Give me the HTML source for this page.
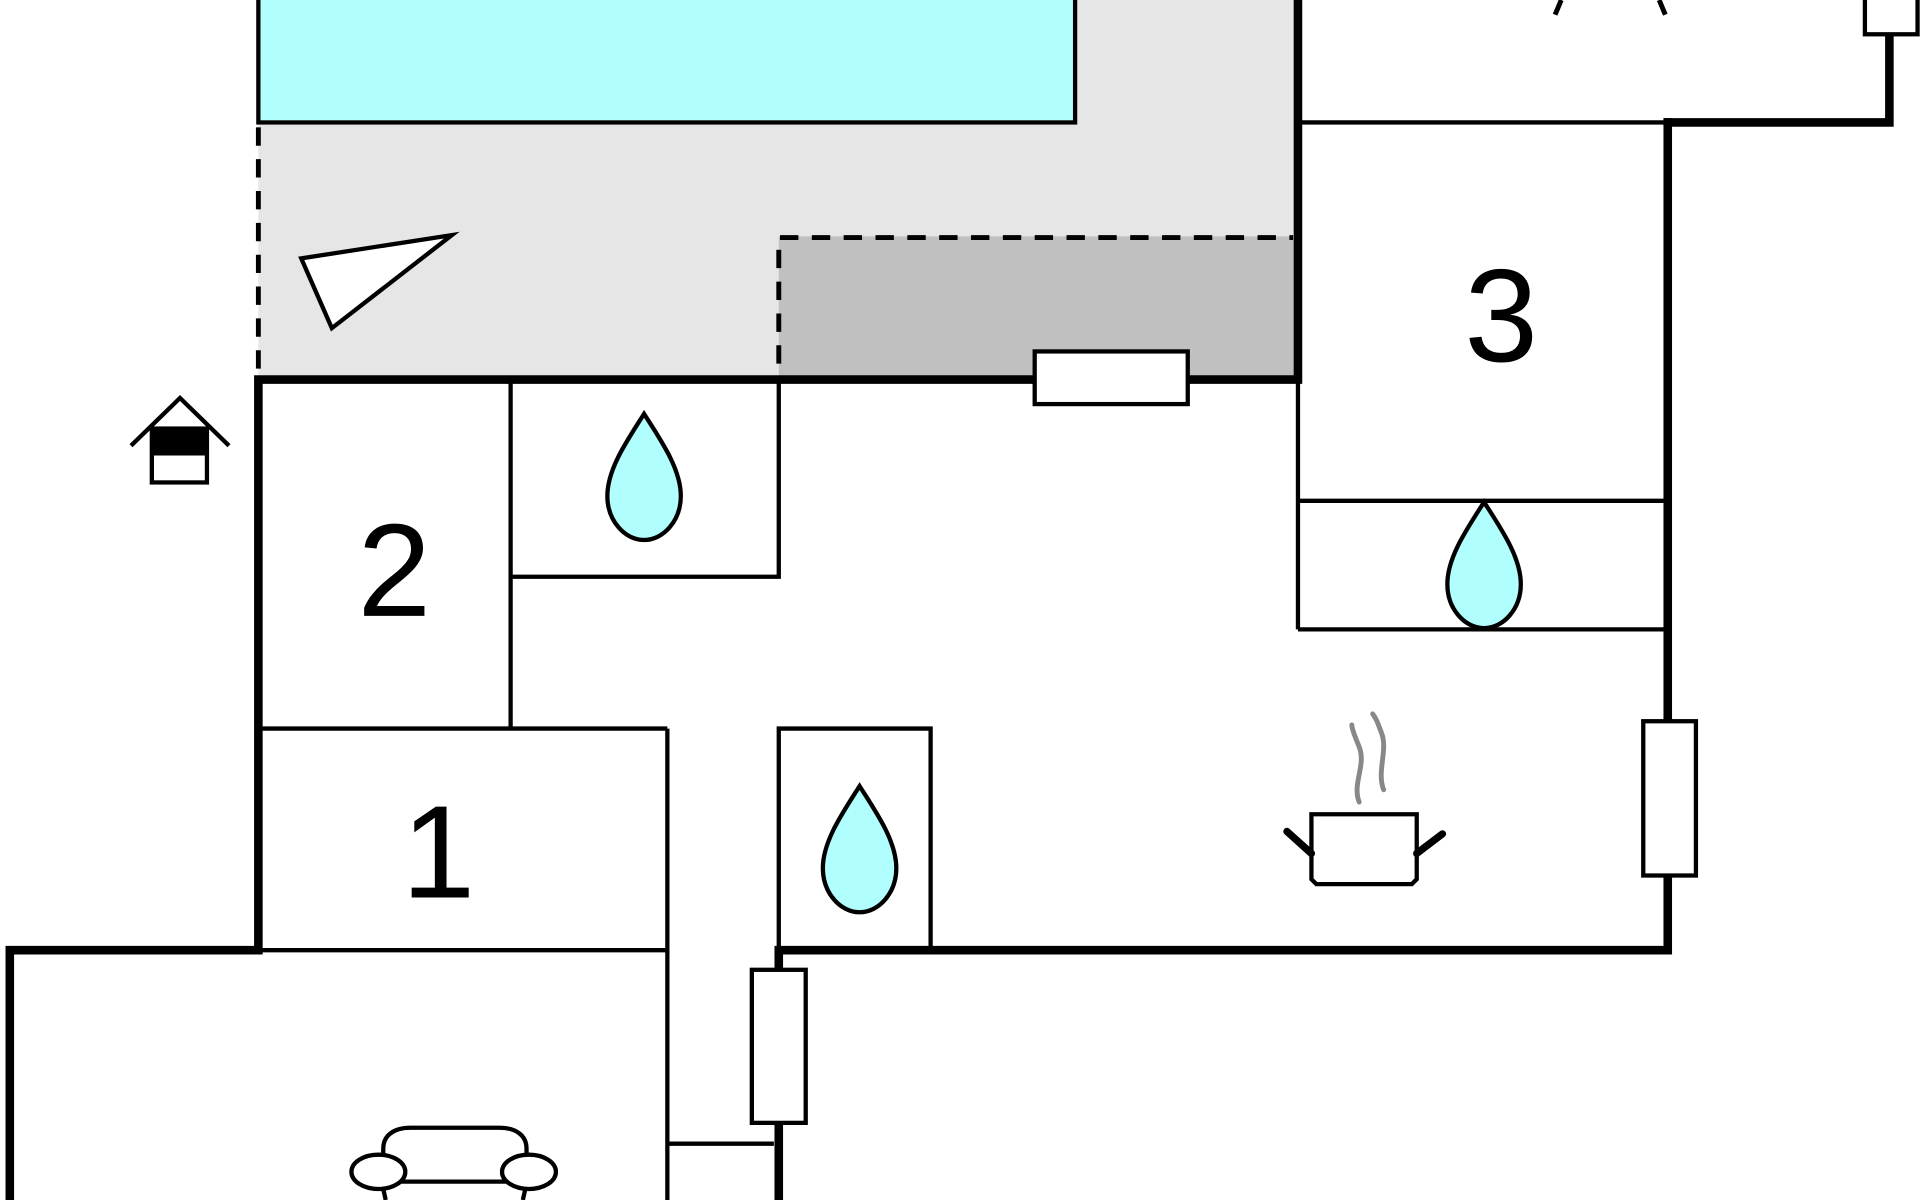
<!DOCTYPE html>
<html><head><meta charset="utf-8"><style>html,body{margin:0;padding:0;background:#fff;}svg{display:block;}</style></head>
<body>
<svg width="1920" height="1200" viewBox="0 0 1568 980" xmlns="http://www.w3.org/2000/svg">
<defs>
<path id="drop" d="M0,0 C-14,22 -30,45 -30,67 C-30,87 -16,103 0,103 C16,103 30,87 30,67 C30,45 14,22 0,0Z" fill="#b0fefe" stroke="#000" stroke-width="3.5"/>
</defs>
<rect width="1568" height="980" fill="#fff"/>
<rect x="211" y="0" width="849" height="307" fill="#e6e6e6"/>
<rect x="636" y="193" width="422" height="114" fill="#c0c0c0"/>
<rect x="211" y="-5" width="667" height="105" fill="#b0fefe" stroke="#000" stroke-width="3.5"/>
<g stroke="#000" stroke-width="4" stroke-dasharray="15,11" fill="none">
<line x1="211" y1="104" x2="211" y2="305"/>
<line x1="637" y1="194" x2="1056" y2="194"/>
<line x1="636" y1="204" x2="636" y2="305"/>
</g>
<polygon points="246,211 369,192 271,268" fill="#fff" stroke="#000" stroke-width="3.5"/>
<g stroke="#000" stroke-width="3.5" fill="none">
<line x1="1060" y1="100" x2="1362" y2="100"/>
<line x1="1060" y1="310" x2="1060" y2="514"/>
<line x1="1060" y1="409" x2="1362" y2="409"/>
<line x1="1060" y1="514" x2="1362" y2="514"/>
<line x1="417" y1="310" x2="417" y2="595"/>
<polyline points="417,471 636,471 636,310"/>
<line x1="211" y1="595" x2="545" y2="595"/>
<line x1="545" y1="595" x2="545" y2="980"/>
<line x1="211" y1="776" x2="545" y2="776"/>
<line x1="545" y1="934" x2="632" y2="934"/>
<polyline points="636,776 636,595 760,595 760,776"/>
</g>
<g stroke="#000" stroke-width="7" fill="none" stroke-linecap="square">
<polyline points="1060,0 1060,310 211,310 211,776 8,776 8,980"/>
<polyline points="1362,100 1543,100 1543,30"/>
<polyline points="1362,100 1362,776 636,776 636,980"/>
</g>
<g fill="#fff" stroke="#000" stroke-width="3.5">
<rect x="845" y="287" width="125" height="43"/>
<rect x="1342" y="589" width="43" height="126"/>
<rect x="614" y="792" width="44" height="125"/>
<rect x="1523" y="-5" width="43" height="33"/>
</g>
<line x1="1270" y1="12" x2="1275" y2="0" stroke="#000" stroke-width="4"/>
<line x1="1355" y1="0" x2="1360" y2="12" stroke="#000" stroke-width="4"/>
<use href="#drop" x="526" y="338"/>
<use href="#drop" x="1212" y="410"/>
<use href="#drop" x="702" y="642"/>
<g font-family="Liberation Sans, sans-serif" font-size="108" text-anchor="middle" fill="#000">
<text x="1226" y="295">3</text>
<text x="322" y="503">2</text>
<text x="358" y="733">1</text>
</g>
<polyline points="107,364 147,325 187,364" fill="none" stroke="#000" stroke-width="3.5"/>
<rect x="124" y="350" width="45" height="44" fill="#fff" stroke="#000" stroke-width="3.5"/>
<rect x="124" y="350" width="45" height="22" fill="#000"/>
<g fill="none">
<path d="M1110,655 C1104,640 1116,625 1110,610 C1106,600 1104,595 1104,592" stroke="#888" stroke-width="4" stroke-linecap="round"/>
<path d="M1130,645 C1124,630 1134,612 1128,598 C1125,590 1124,587 1121,583" stroke="#888" stroke-width="4" stroke-linecap="round"/>
<path d="M1071,665 L1157,665 L1157,718 L1153,722 L1075,722 L1071,718Z" fill="#fff" stroke="#000" stroke-width="3.5"/>
<line x1="1051" y1="679" x2="1071" y2="697" stroke="#000" stroke-width="6" stroke-linecap="round"/>
<line x1="1157" y1="697" x2="1178" y2="681" stroke="#000" stroke-width="6" stroke-linecap="round"/>
</g>
<g stroke="#000" stroke-width="3.5" fill="#fff">
<path d="M313,948 L313,938 C313,927 322,921 335,921 L408,921 C421,921 430,927 430,938 L430,948"/>
<line x1="325" y1="965" x2="418" y2="965"/>
<ellipse cx="309" cy="957" rx="22" ry="14"/>
<ellipse cx="432" cy="957" rx="22" ry="14"/>
<path d="M313,971 L315,980 M429,971 L427,980" fill="none"/>
</g>
</svg>
</body></html>
